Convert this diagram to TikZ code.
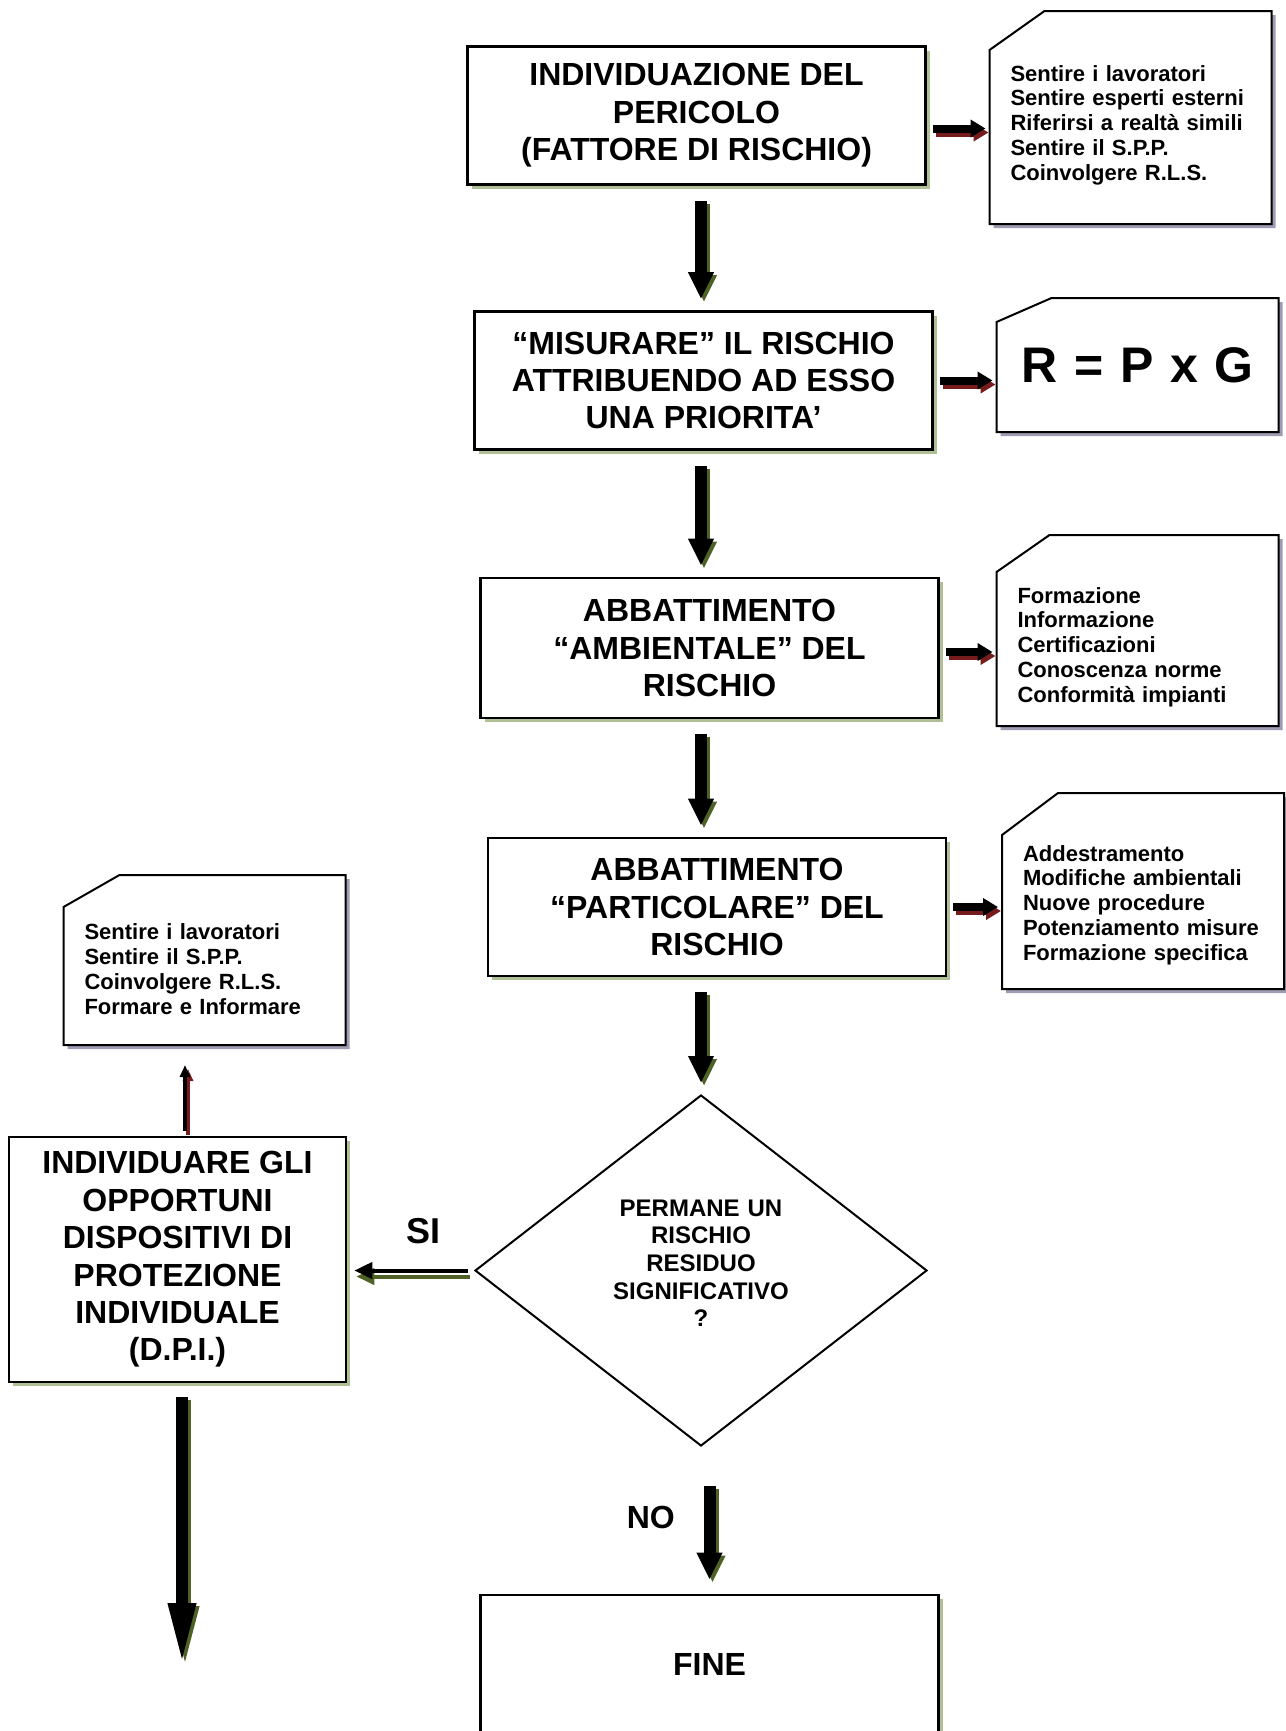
\documentclass[tikz,border=0pt]{standalone}
\usepackage{fontspec}
\setmainfont{Liberation Sans}
\usetikzlibrary{arrows.meta,shapes.geometric,shadows,backgrounds}

\definecolor{boxshadow}{RGB}{176,192,150}
\definecolor{noteshadow}{RGB}{158,155,178}
\definecolor{arrgreen}{RGB}{78,98,38}
\definecolor{arrred}{RGB}{118,28,28}

\tikzset{
  stepbox/.style={draw,line width=1.3pt,fill=white,minimum width=229pt,minimum height=69pt,
    align=center,font=\bfseries\fontsize{16}{18.7}\selectfont,
    drop shadow={shadow xshift=2pt,shadow yshift=-2pt,fill=boxshadow,opacity=1}},
  notebox/.style={rectangle,outer sep=0pt,minimum width=141pt,
    text width=120pt,align=left,font=\bfseries\fontsize{11}{12.4}\selectfont},
  noteline/.style={draw,line width=1pt,fill=white,
    drop shadow={shadow xshift=2pt,shadow yshift=-2pt,fill=noteshadow,opacity=1}},
  downarr/.style={line width=6pt,-{Triangle[width=12pt,length=13.5pt]}},
  longarr/.style={line width=6pt,-{Triangle[width=12.5pt,length=31.5pt]}},
  sidearr/.style={line width=4pt,-{Triangle[width=8.5pt,length=7.5pt]}},
  siarr/.style={line width=2pt,-{Triangle[width=8pt,length=9pt]}},
  thinarr/.style={line width=2pt,-{Triangle[width=5pt,length=6pt]}},
  greenshadow/.style={draw=arrgreen,transform canvas={xshift=1.5pt,yshift=-1.5pt}},
  redshadow/.style={draw=arrred,transform canvas={xshift=1.5pt,yshift=-2pt}},
}

\begin{document}
\begin{tikzpicture}[x=0.5pt,y=-0.5pt]
    \useasboundingbox (0,0) rectangle (1286,1731);
    \begin{pgfonlayer}{background}
        \fill[white] (0,0) rectangle (1286,1731);
    \end{pgfonlayer}

    % main steps
    \node[stepbox] (n1) at (696.5,115.5) {INDIVIDUAZIONE DEL\\PERICOLO\\(FATTORE DI RISCHIO)};
    \node[stepbox] (n2) at (703.5,380.5) {“MISURARE” IL RISCHIO\\ATTRIBUENDO AD ESSO\\UNA PRIORITA’};
    \node[stepbox,minimum height=70pt] (n3) at (709.5,648) {ABBATTIMENTO\\“AMBIENTALE” DEL\\RISCHIO};
    \node[stepbox] (n4) at (717,907) {ABBATTIMENTO\\“PARTICOLARE” DEL\\RISCHIO};
    \node[diamond,draw,line width=1pt,minimum width=226pt,minimum height=175.5pt,text width=100pt,align=center,
        font=\bfseries\fontsize{12}{13.8}\selectfont,text height=1pt] (dec) at (701,1270.5)
        {PERMANE UN\\RISCHIO\\RESIDUO\\SIGNIFICATIVO\\?};
    \node[stepbox] (fine) at (709.5,1664) {FINE};
    \node[stepbox,minimum width=168.5pt,minimum height=122.5pt] (dpi) at (177.5,1259.5)
        {INDIVIDUARE GLI\\OPPORTUNI\\DISPOSITIVI DI\\PROTEZIONE\\INDIVIDUALE\\(D.P.I.)};
    \coordinate (dpiout) at (182,1666);

    % notes
    \node[notebox,minimum height=106.5pt,text height=15.5pt] (c1) at (1130.5,117.5)
        {Sentire i lavoratori\\Sentire esperti esterni\\Riferirsi a realtà simili\\Sentire il S.P.P.\\Coinvolgere R.L.S.};
    \node[notebox,minimum height=67pt,align=center,font=\bfseries\fontsize{25}{30}\selectfont] (c2) at (1137.5,365) {R = P x G};
    \node[notebox,minimum height=95.5pt,text height=24.5pt] (c3) at (1137.5,630.5)
        {Formazione\\Informazione\\Certificazioni\\Conoscenza norme\\Conformità impianti};
    \node[notebox,minimum height=98pt,text height=22pt] (c4) at (1143,891)
        {Addestramento\\Modifiche ambientali\\Nuove procedure\\Potenziamento misure\\Formazione specifica};
    \node[notebox,minimum height=85pt,text height=17pt] (lnote) at (204.5,960)
        {Sentire i lavoratori\\Sentire il S.P.P.\\Coinvolgere R.L.S.\\Formare e Informare};
    \begin{pgfonlayer}{background}
        \foreach \c/\cx/\cy in {c1/27.5pt/19.5pt,c2/27.5pt/12pt,c3/26.5pt/18.5pt,c4/28pt/21pt,lnote/28pt/16pt}
            \draw[noteline] ([yshift=-\cy]\c.north west) -- ([xshift=\cx]\c.north west) -- (\c.north east)
                -- (\c.south east) -- (\c.south west) -- cycle;
    \end{pgfonlayer}

    % arrows
    \foreach \a/\b in {n1/n2,n2/n3,n3/n4,n4/dec}{
        \draw[downarr,greenshadow,shorten <=7.5pt,shorten >=5.5pt] (\a.south -| dec.north) -- (\b.north -| dec.north);
        \draw[downarr,shorten <=7.5pt,shorten >=5.5pt] (\a.south -| dec.north) -- (\b.north -| dec.north);
    }
    \foreach \a/\b/\dy in {n1/c1/-6.5pt,n2/c2/0pt,n3/c3/-2pt,n4/c4/0pt}{
        \draw[sidearr,redshadow,shorten <=3pt,shorten >=2pt] ([yshift=\dy]\a.east) -- ([yshift=\dy]\a.east -| \b.west);
        \draw[sidearr,shorten <=3pt,shorten >=2pt] ([yshift=\dy]\a.east) -- ([yshift=\dy]\a.east -| \b.west);
    }
    \draw[downarr,greenshadow,shorten <=19.5pt,shorten >=7pt] (fine.north |- dec.south) -- (fine.north);
    \draw[downarr,shorten <=19.5pt,shorten >=7pt] (fine.north |- dec.south) -- (fine.north)
        node[pos=0.48,left=11pt,font=\bfseries\fontsize{16}{18}\selectfont] (no) {NO};
    \draw[siarr,draw=arrgreen,transform canvas={xshift=1pt,yshift=-3pt},shorten <=3pt,shorten >=3.5pt]
        (dec.west) -- (dec.west -| dpi.east);
    \draw[siarr,shorten <=3pt,shorten >=3.5pt] (dec.west) -- (dec.west -| dpi.east)
        node[pos=0.4,above=9pt,font=\bfseries\fontsize{18}{20}\selectfont] (si) {SI};
    \draw[thinarr,redshadow,shorten <=2.5pt,shorten >=10pt] ([xshift=3.75pt]dpi.north) -- ([xshift=3.75pt]dpi.north |- lnote.south);
    \draw[thinarr,shorten <=2.5pt,shorten >=10pt] ([xshift=3.75pt]dpi.north) -- ([xshift=3.75pt]dpi.north |- lnote.south);
    \draw[longarr,greenshadow,shorten <=7pt] (dpiout |- dpi.south) -- (dpiout);
    \draw[longarr,shorten <=7pt] (dpiout |- dpi.south) -- (dpiout);
\end{tikzpicture}
\end{document}
